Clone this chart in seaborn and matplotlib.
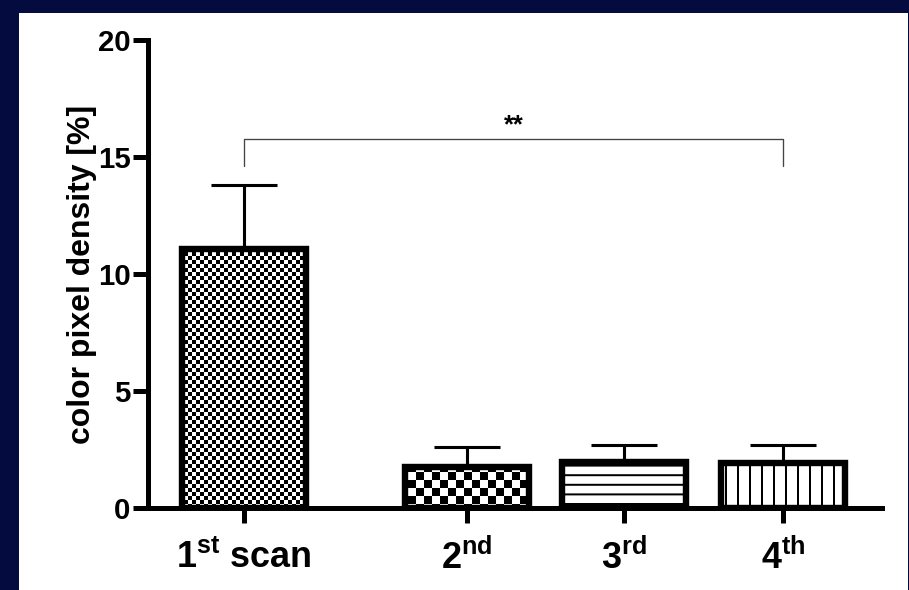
import warnings

import matplotlib as mpl
import matplotlib.pyplot as plt
import numpy as np
import seaborn as sns
from matplotlib import hatch as mhatch
from matplotlib.patches import Rectangle
from matplotlib.path import Path

warnings.filterwarnings("ignore")

# --- dados ---
scans = ["1$^{\\mathrm{st}}$ scan", "2$^{\\mathrm{nd}}$", "3$^{\\mathrm{rd}}$", "4$^{\\mathrm{th}}$"]
density = [11.07, 1.77, 1.98, 1.91]
sem = [2.73, 0.84, 0.71, 0.77]
y_ticks = [0, 5, 10, 15, 20]
signif = "**"

# posições das barras (o 1º scan fica mais afastado)
x_pos = [0.0, 1.42, 2.42, 3.43]
hatches = ["cccc", "cc", "h", "v"]


# --- hachuras próprias (xadrez e linhas com espaçamento livre) ---
class CheckerHatch(mhatch.HatchPatternBase):
    def __init__(self, hatch, density):
        self.cells = int(hatch.count("c") * density)
        self.num_vertices = (self.cells ** 2 // 2) * 5

    def set_vertices_and_codes(self, vertices, codes):
        step = 1.0 / self.cells
        pad = mpl.rcParams["hatch.linewidth"] / 72 / 2
        k = 0
        for i in range(self.cells):
            for j in range(self.cells):
                if (i + j) % 2:
                    continue
                x0, y0 = i * step + pad, j * step + pad
                x1, y1 = (i + 1) * step - pad, (j + 1) * step - pad
                vertices[k:k + 5] = [(x0, y0), (x1, y0), (x1, y1), (x0, y1), (x0, y0)]
                codes[k:k + 5] = [Path.MOVETO, Path.LINETO, Path.LINETO,
                                  Path.LINETO, Path.CLOSEPOLY]
                k += 5


class LineHatch(mhatch.HatchPatternBase):
    def __init__(self, hatch, density):
        self.nh = hatch.count("h") * 10
        self.nv = hatch.count("v") * 8
        self.num_vertices = (self.nh + self.nv) * 2

    def set_vertices_and_codes(self, vertices, codes):
        k = 0
        for n, horiz in ((self.nh, True), (self.nv, False)):
            if n == 0:
                continue
            steps = (np.arange(n) + 0.5) / n
            seg = vertices[k:k + 2 * n]
            a, b = (1, 0) if horiz else (0, 1)
            seg[0::2, b] = 0.0
            seg[1::2, b] = 1.0
            seg[0::2, a] = steps
            seg[1::2, a] = steps
            codes[k:k + 2 * n:2] = Path.MOVETO
            codes[k + 1:k + 2 * n:2] = Path.LINETO
            k += 2 * n


mhatch._hatch_types.extend([CheckerHatch, LineHatch])

# --- estilo ---
sns.set_style("ticks")
plt.rcParams["font.family"] = ["Liberation Sans", "DejaVu Sans"]
plt.rcParams["font.weight"] = "bold"
plt.rcParams["mathtext.fontset"] = "custom"
plt.rcParams["mathtext.rm"] = "Liberation Sans:bold"
plt.rcParams["mathtext.it"] = "Liberation Sans:bold"
plt.rcParams["mathtext.bf"] = "Liberation Sans:bold"
plt.rcParams["hatch.linewidth"] = 1.5
plt.rcParams["hatch.color"] = "black"
for key in ["text.color", "axes.labelcolor", "xtick.color", "ytick.color", "axes.edgecolor"]:
    plt.rcParams[key] = "black"

fig = plt.figure(figsize=(909 / 96, 590 / 96), dpi=96, facecolor="#040c3f")
# painel branco (atrás dos eixos)
fig.patches.append(Rectangle((19 / 909, 0), 889 / 909, 577 / 590,
                             transform=fig.transFigure, facecolor="white",
                             edgecolor="none", zorder=-5))
ax = fig.add_axes([148 / 909, 82 / 590, 734 / 909, 468 / 590])
ax.set_facecolor("none")

sns.barplot(x=x_pos, y=density, native_scale=True, width=0.79,
            color="white", saturation=1, edgecolor="black", linewidth=4.8,
            errorbar=None, ax=ax)
for bar, h in zip(ax.patches, hatches):
    bar.set_hatch(h)

ax.errorbar(x_pos, density, yerr=[np.zeros(len(sem)), sem], fmt="none",
            ecolor="black", elinewidth=2.3, capsize=25, capthick=2.3, zorder=1)

# colchete de significância
top, drop = 15.75, 14.6
ax.plot([x_pos[0], x_pos[0], x_pos[-1], x_pos[-1]], [drop, top, top, drop],
        color="#444444", lw=1.0, clip_on=False)
ax.text((x_pos[0] + x_pos[-1]) / 2, top + 0.1, signif, ha="center",
        va="bottom", fontsize=19, fontweight="bold")

ax.set_xlim(-0.61, 4.06)
ax.set_ylim(0, 20)
ax.set_yticks(y_ticks)
ax.set_xticks(x_pos, scans)
sns.despine(ax=ax)
for side in ["left", "bottom"]:
    ax.spines[side].set_linewidth(3.75)
ax.tick_params(axis="both", width=3.75, length=11, direction="out", color="black")
ax.tick_params(axis="y", labelsize=22, pad=2)
ax.tick_params(axis="x", labelsize=27, pad=13)
ax.set_ylabel("color pixel density [%]", fontsize=24, fontweight="bold", labelpad=1)
ax.set_xlabel("")

fig.savefig("out.png", dpi=96, facecolor=fig.get_facecolor())
